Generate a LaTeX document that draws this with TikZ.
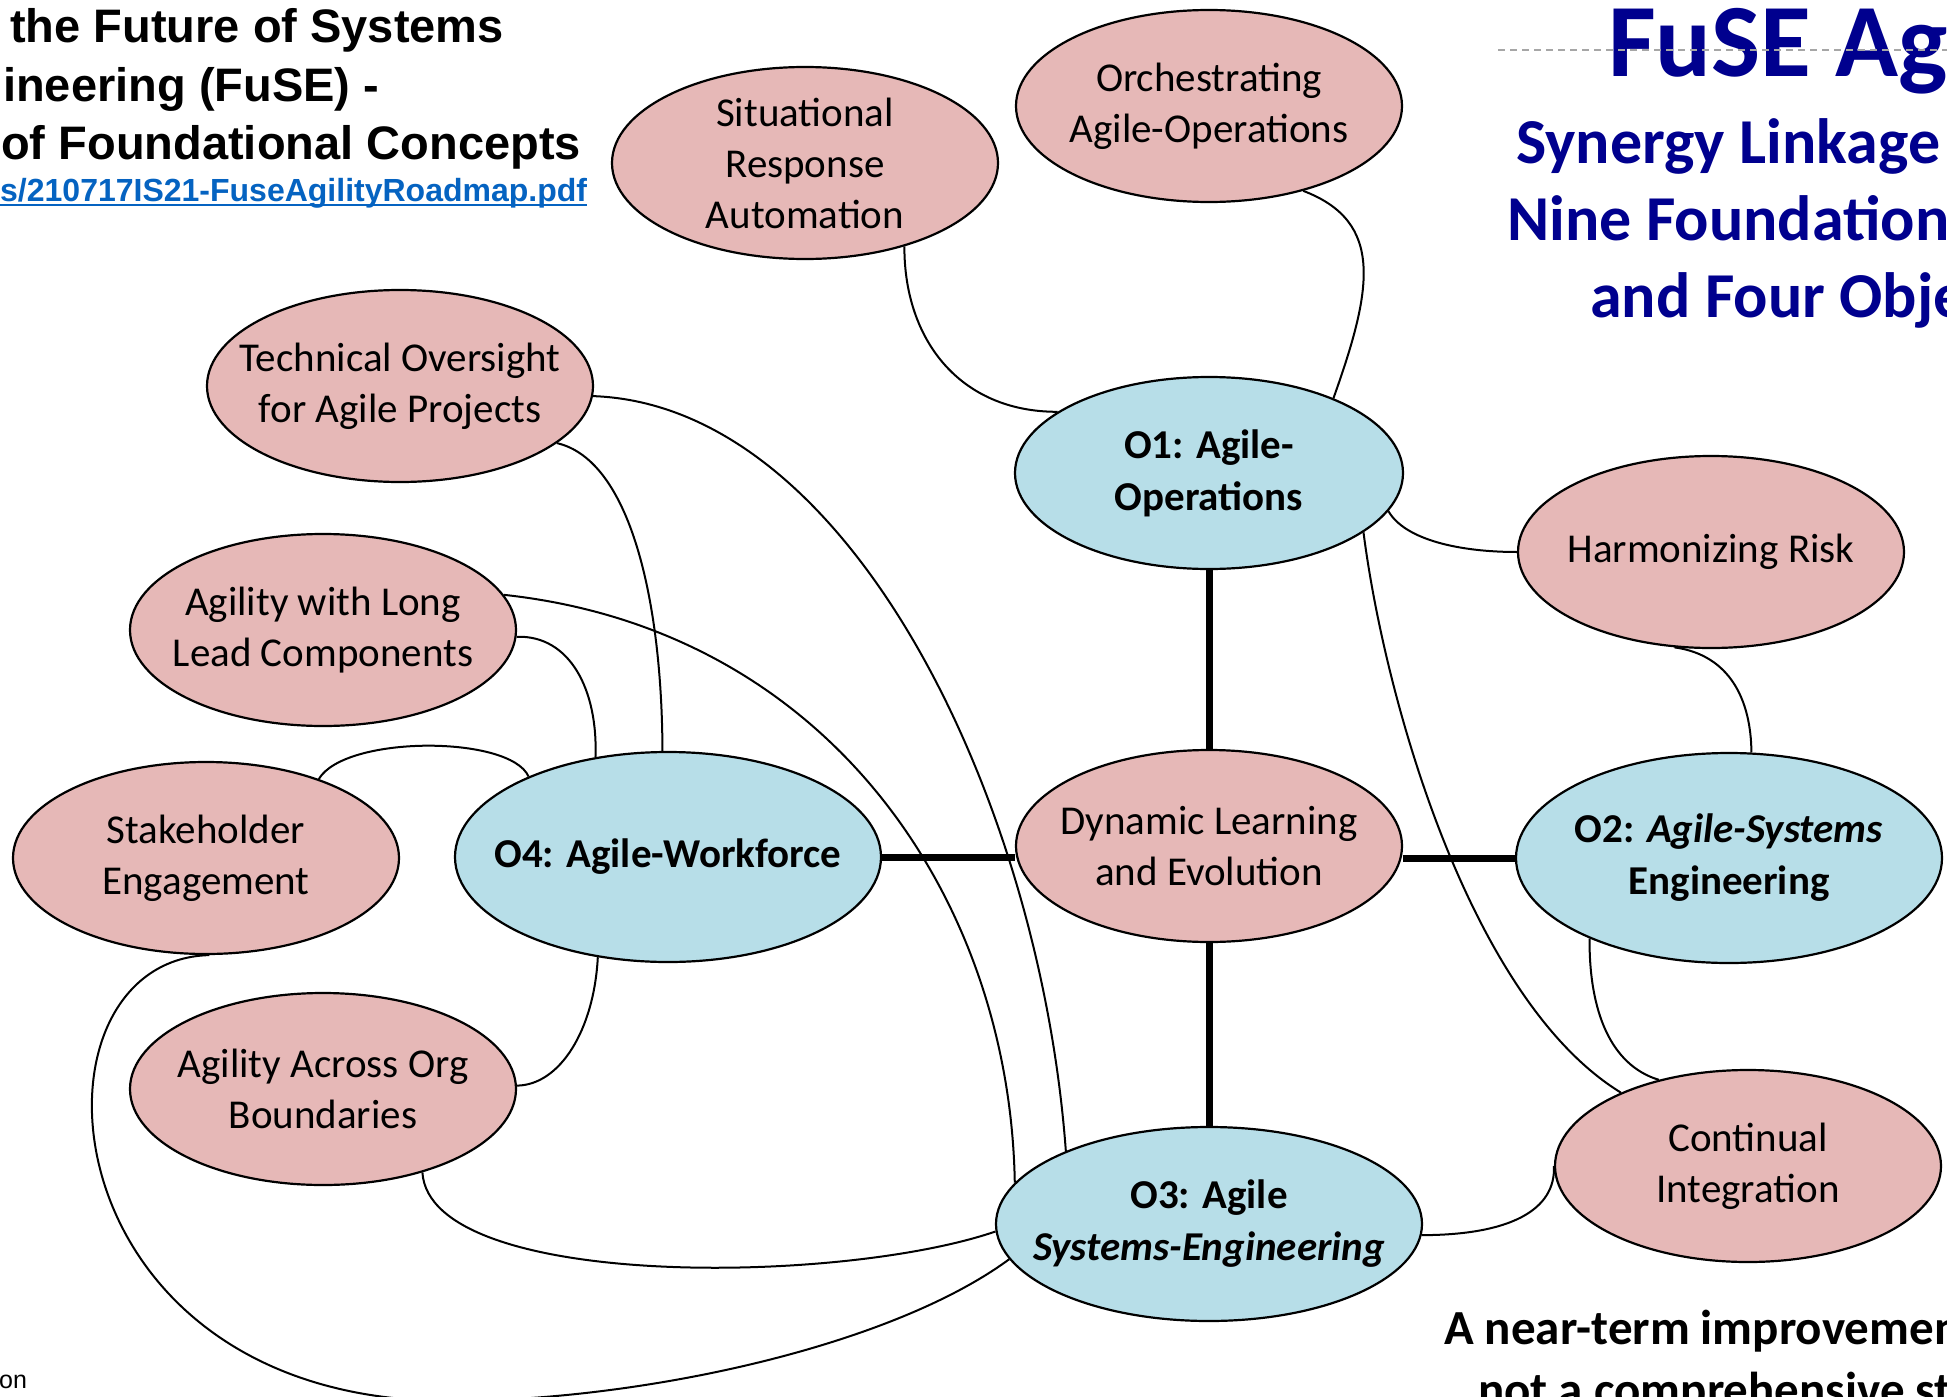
\documentclass[tikz,border=0pt]{standalone}
\usepackage{fontspec}
\setmainfont{Carlito}
\newfontfamily\headfont{Liberation Sans}
\usetikzlibrary{shapes.geometric}

\definecolor{conceptfill}{HTML}{E6B8B7}
\definecolor{objfill}{HTML}{B7DEE8}
\definecolor{titlenavy}{HTML}{00008E}
\definecolor{linkblue}{HTML}{0563C1}
\definecolor{rulegray}{HTML}{A6A6A6}

\begin{document}
\begin{tikzpicture}[x=1pt,y=-1pt,
  bubble/.style={ellipse, draw=black, line width=2.2pt, inner sep=0pt},
  concept/.style={bubble, fill=conceptfill, minimum width=386pt, minimum height=192pt},
  objective/.style={bubble, fill=objfill, minimum width=426pt, minimum height=210pt},
  ctext/.style={align=center, inner sep=0pt, font=\fontsize{41}{51}\selectfont},
  otext/.style={align=center, inner sep=0pt, font=\fontsize{41}{52}\selectfont\bfseries},
  headline/.style={anchor=base west, inner sep=0pt, font=\headfont\bfseries\fontsize{47}{56}\selectfont},
  subhead/.style={anchor=base west, inner sep=0pt, text=titlenavy, font=\bfseries\fontsize{64}{77}\selectfont},
  notetext/.style={anchor=base west, inner sep=0pt, font=\bfseries\fontsize{49}{60}\selectfont},
  synergy/.style={line width=2pt},
  spine/.style={line width=7pt}]

\useasboundingbox (0,0) rectangle (1947,1397);
\fill[white] (0,0) rectangle (1947,1397);

% ---- headings -------------------------------------------------------
\node[headline] (h1) at (10,43) {the Future of Systems};
\node[headline] (h2) at (3,102) {ineering (FuSE) -};
\node[headline] (h3) at (1,159) {of Foundational Concepts};
\node[anchor=base west, inner sep=0pt, text=linkblue,
      font=\headfont\bfseries\fontsize{32}{38}\selectfont] (h4) at (0,201)
      {s/210717IS21-FuseAgilityRoadmap.pdf};
\draw[linkblue, line width=2.6pt] ([yshift=-4pt]h4.base west) -- ([yshift=-4pt]h4.base east);

\node[anchor=base west, inner sep=0pt, text=titlenavy,
      font=\bfseries\fontsize{104}{110}\selectfont] (fuse) at (1608,77) {FuSE Ag};
\coordinate (rulestart) at (1498,50);
\coordinate (ruleend) at (1947,50);
\draw[rulegray, line width=2pt, dash pattern=on 7pt off 5pt] (rulestart) -- (ruleend);
\node[subhead] (s1) at (1516,163) {Synergy Linkage};
\node[subhead] (s2) at (1507,240) {Nine Foundation};
\node[subhead] (s3) at (1590,317) {and Four Obje};

\node[notetext] (n1) at (1444,1344) {A near-term improvement};
\node[notetext] (n2) at (1478,1406) {not a comprehensive str};

\node[anchor=base west, inner sep=0pt, font=\headfont\fontsize{25}{30}\selectfont] (foot) at (-1,1388) {on};

% ---- concept and objective bubbles ----------------------------------
\node[concept]   (sit)   at (805,163)   {};
\node[concept]   (orch)  at (1209,106)  {};
\node[concept]   (tech)  at (400,386)   {};
\node[objective, minimum width=388pt, minimum height=192pt] (o1) at (1209,473) {};
\node[concept]   (harm)  at (1711,552)  {};
\node[concept]   (long)  at (323,630)   {};
\node[concept]   (stake) at (206,858)   {};
\node[objective] (o4)    at (668,857)   {};
\node[concept]   (dyn)   at (1209,846)  {};
\node[objective] (o2)    at (1729,858)  {};
\node[concept]   (org)   at (323,1089)  {};
\node[concept]   (cont)  at (1748,1166) {};
\node[objective, minimum height=194pt] (o3) at (1209,1224) {};

\node[ctext] (sit-t)   at (sit)   {Situational\\Response\\Automation};
\node[ctext] (orch-t)  at (orch)  {Orchestrating\\Agile-Operations};
\node[ctext] (tech-t)  at (tech)  {Technical Oversight\\for Agile Projects};
\node[otext] (o1-t)    at (o1)    {O1: Agile-\\Operations};
\node[ctext] (harm-t)  at (harm)  {Harmonizing Risk};
\node[ctext] (long-t)  at (long)  {Agility with Long\\Lead Components};
\node[ctext] (stake-t) at (stake) {Stakeholder\\Engagement};
\node[otext] (o4-t)    at (o4)    {O4: Agile-Workforce};
\node[ctext] (dyn-t)   at (dyn)   {Dynamic Learning\\and Evolution};
\node[otext] (o2-t)    at (o2)    {O2: \textit{Agile-Systems}\\Engineering};
\node[ctext] (org-t)   at (org)   {Agility Across Org\\Boundaries};
\node[ctext] (cont-t)  at (cont)  {Continual\\Integration};
\node[otext] (o3-t)    at (o3)    {O3: Agile\\\textit{Systems-Engineering}};

% ---- the objective cross through the central concept ----------------
\draw[spine] (o1.south) -- (dyn.north);
\draw[spine] (dyn.south) -- (o3.north);
\draw[spine] (o4.east) -- (o4.east -| dyn.west);
\draw[spine] (o2.west -| dyn.east) -- (o2.west);

% ---- synergy links ----------------------------------------------------
\coordinate (dip) at (450,1401);
\draw[synergy] (sit.-40) .. controls (904,340) and (960,412) .. (o1.158);
\draw[synergy] (orch.-42) .. controls (1385,222) and (1372,290) .. (o1.31);
\draw[synergy] (tech.-3) .. controls (850,405) and (1040,800) .. (o3.153);
\draw[synergy] (tech.-20) .. controls (630,460) and (662,600) .. (o4.93);
\draw[synergy] (long.11) .. controls (830,630) and (1010,900) .. (o3.168);
\draw[synergy] (long.-2) .. controls (570,635) and (598,690) .. (o4.126);
\draw[synergy] (stake.35) .. controls (345,735) and (510,735) .. (o4.150);
\draw[synergy] (stake.-88) .. controls (15,960) and (40,1401) .. (dip)
               .. controls (640,1401) and (890,1347) .. (o3.190);
\draw[synergy] (org.1) .. controls (560,1085) and (594,1030) .. (o4.235);
\draw[synergy] (org.-40) .. controls (430,1290) and (840,1285) .. (o3.182);
\draw[synergy] (o1.-12) .. controls (1405,540) and (1460,552) .. (harm.west);
\draw[synergy] (o1.-21) .. controls (1385,700) and (1470,1000) .. (cont.150);
\draw[synergy] (harm.249) .. controls (1730,655) and (1751,700) .. (o2.78);
\draw[synergy] (o2.210) .. controls (1589,1010) and (1610,1065) .. (cont.136);
\draw[synergy] (o3.-3) .. controls (1510,1235) and (1556,1210) .. (cont.west);

\end{tikzpicture}
\end{document}
